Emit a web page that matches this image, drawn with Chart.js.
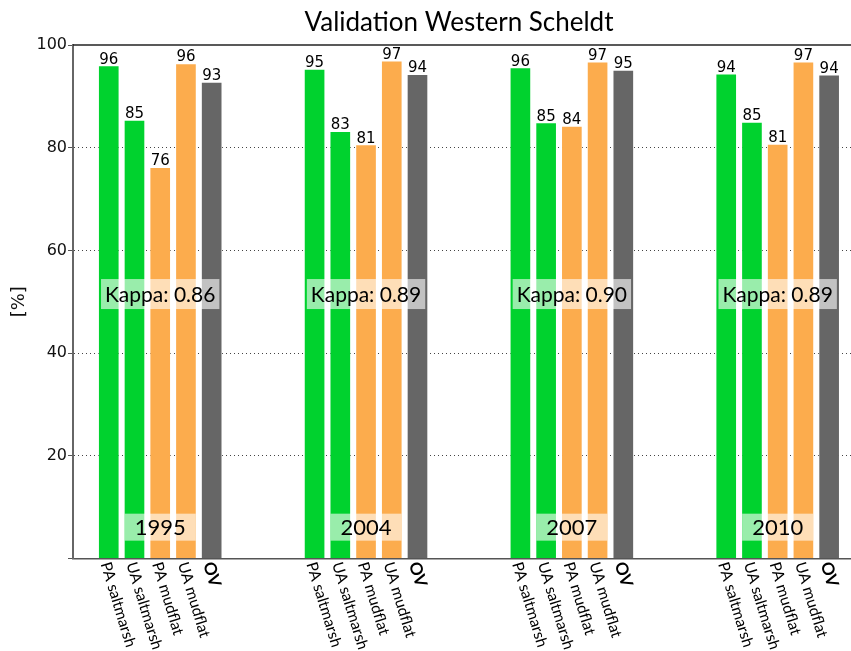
<!DOCTYPE html>
<html>
<head>
<meta charset="utf-8">
<script src="https://cdn.jsdelivr.net/npm/chart.js@4.4.1/dist/chart.umd.min.js"></script>
<style>
  body { margin: 0; background: #fff; }
</style>
</head>
<body>
<canvas id="chart" width="851" height="651"></canvas>
<script>
// Data
const years = ["1995", "2004", "2007", "2010"];
const categories = ["PA saltmarsh", "UA saltmarsh", "PA mudflat", "UA mudflat", "OV"];
const values1995 = [96.0, 85.4, 76.2, 96.4, 92.8];
const values2004 = [95.3, 83.2, 80.6, 96.9, 94.3];
const values2007 = [95.6, 84.9, 84.2, 96.7, 95.1];
const values2010 = [94.4, 85.0, 80.7, 96.7, 94.2];
const kappa = [0.86, 0.89, 0.90, 0.89];
const yTicks = [0, 20, 40, 60, 80, 100];

const barColors = [
  "#00d22e", // saltmarsh
  "#00d22e",
  "#fcac4d", // mudflat
  "#fcac4d",
  "#666666", // overall
];

// one slot per bar, 3 empty slots between years
const groupValues = [values1995, values2004, values2007, values2010];
const groupStart = 1;
const groupStep = 8;

const points = [];
const colors = [];
const names = [];
groupValues.forEach(function (vals, g) {
  vals.forEach(function (v, i) {
    points.push({ x: groupStart + g * groupStep + i, y: v });
    colors.push(barColors[i]);
    names.push(categories[i]);
  });
});

// Text drawn on top of the chart
const annotate = {
  id: "annotate",
  afterDatasetsDraw(chart) {
    const { ctx, scales } = chart;
    const meta = chart.getDatasetMeta(0);
    ctx.save();

    // value labels
    ctx.font = "15px 'DejaVu Sans'";
    ctx.fillStyle = "#000";
    ctx.textAlign = "center";
    ctx.textBaseline = "alphabetic";
    meta.data.forEach(function (bar, i) {
      ctx.fillText(Math.round(points[i].y), bar.x, bar.y - 2);
    });

    // kappa and year boxes
    ctx.textBaseline = "middle";
    years.forEach(function (yr, g) {
      const cx = scales.x.getPixelForValue(groupStart + g * groupStep + 2);

      ctx.font = "21px Lato";
      let txt = "Kappa: " + kappa[g].toFixed(2);
      let w = ctx.measureText(txt).width + 8;
      let cy = scales.y.getPixelForValue(51.5);
      ctx.fillStyle = "rgba(255,255,255,0.6)";
      ctx.fillRect(cx - w / 2, cy - 15, w, 30);
      ctx.fillStyle = "#000";
      ctx.fillText(txt, cx, cy + 1);

      ctx.font = "22px Lato";
      w = ctx.measureText(yr).width + 20;
      cy = scales.y.getPixelForValue(6.1);
      ctx.fillStyle = "rgba(255,255,255,0.6)";
      ctx.fillRect(cx - w / 2, cy - 13.5, w, 27);
      ctx.fillStyle = "#000";
      ctx.fillText(yr, cx, cy + 1);
    });
    ctx.restore();
  },
  afterDraw(chart) {
    const { ctx, chartArea } = chart;
    const meta = chart.getDatasetMeta(0);
    ctx.save();

    // top spine
    ctx.strokeStyle = "#222";
    ctx.lineWidth = 1.5;
    ctx.beginPath();
    ctx.moveTo(chartArea.left, chartArea.top);
    ctx.lineTo(chartArea.right, chartArea.top);
    ctx.stroke();

    // rotated category labels
    ctx.fillStyle = "#000";
    ctx.textAlign = "left";
    ctx.textBaseline = "middle";
    meta.data.forEach(function (bar, i) {
      ctx.save();
      ctx.translate(bar.x - 3.5, chartArea.bottom + 4);
      ctx.rotate((73 * Math.PI) / 180);
      ctx.font = names[i] === "OV" ? "bold 17px Lato" : "15.5px Lato";
      ctx.fillText(names[i], 0, 0);
      ctx.restore();
    });

    // title
    ctx.font = "26px Lato";
    ctx.textAlign = "center";
    ctx.fillText("Validation Western Scheldt", 459, 23);
    ctx.restore();
  },
};

const config = {
  type: "bar",
  data: {
    datasets: [
      {
        data: points,
        backgroundColor: colors,
        borderColor: "rgba(255,255,255,0.35)",
        borderWidth: 1,
        barThickness: 21,
      },
    ],
  },
  options: {
    responsive: false,
    animation: false,
    layout: { padding: { top: 45, left: 0, right: 0, bottom: 0 } },
    plugins: {
      legend: { display: false },
      title: { display: false },
      tooltip: { enabled: false },
    },
    scales: {
      x: {
        type: "linear",
        min: -0.39,
        max: 29.85,
        offset: false,
        ticks: { display: false },
        grid: { display: false, drawTicks: false },
        border: { color: "#555", width: 1.5 },
        afterFit(scale) {
          scale.height = 92.5;
        },
      },
      y: {
        min: 0,
        max: 100,
        z: 1,
        afterBuildTicks(scale) {
          scale.ticks = yTicks.map(function (v) {
            return { value: v };
          });
        },
        ticks: {
          padding: 1,
          color: "#111",
          font: { family: "DejaVu Sans", size: 16 },
          callback: function (v) {
            return v === 0 ? "" : v;
          },
        },
        grid: {
          color: function (c) {
            const v = c.tick ? c.tick.value : 0;
            return v === 0 || v === 100 ? "rgba(0,0,0,0)" : "#444";
          },
          tickColor: "#555",
          tickLength: 5,
          tickBorderDash: [],
          lineWidth: 1,
        },
        border: { color: "#666", width: 2, dash: [1, 3] },
        title: {
          display: true,
          text: "[%]",
          color: "#111",
          font: { family: "DejaVu Sans", size: 18 },
          padding: { top: 9, bottom: 4 },
        },
        afterFit(scale) {
          scale.width = 73;
        },
      },
    },
  },
  plugins: [annotate],
};

document.addEventListener("DOMContentLoaded", function () {
  const ctx = document.getElementById("chart");
  if (ctx) {
    new Chart(ctx, config);
  }
});
</script>
</body>
</html>
